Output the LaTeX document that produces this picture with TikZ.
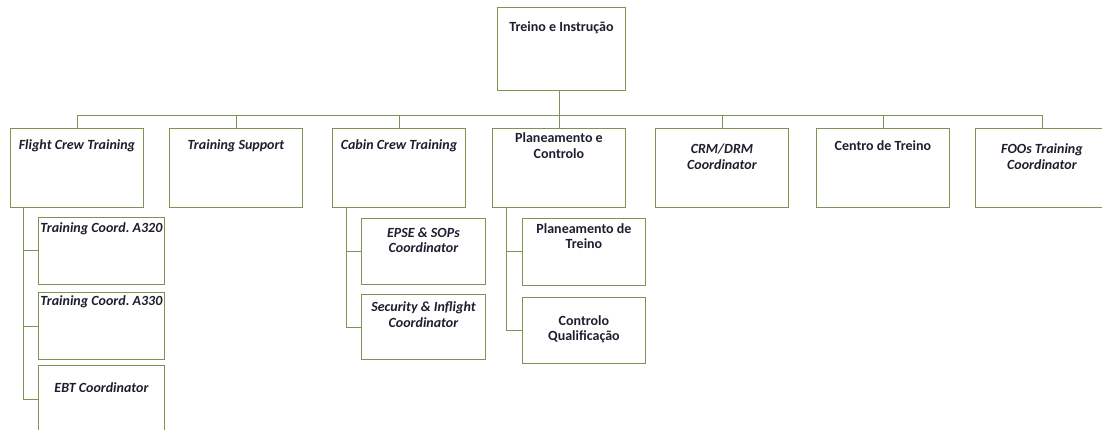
\documentclass[tikz,border=0pt]{standalone}
\usepackage{fontspec}
\setmainfont{Carlito}
\usetikzlibrary{calc, positioning}
\frenchspacing

\definecolor{orgline}{RGB}{122,148,82}
\definecolor{orgtext}{RGB}{30,30,48}

\tikzset{
	unit/.style={draw=orgline, line width=0.9pt, anchor=north west,
		minimum width=133, minimum height=79, inner sep=0pt},
	subunit/.style={unit, minimum width=126, minimum height=67},
	lbl/.style={text=orgtext, font=\fontsize{14}{15.5}\selectfont\bfseries,
		align=center, inner sep=0pt, anchor=center},
	tx/.style 2 args={label={[lbl, label distance=0pt, yshift=-#1]north:{#2}}},
	itx/.style 2 args={label={[lbl, font=\fontsize{14}{15.5}\selectfont\bfseries\itshape,
		label distance=0pt, yshift=-#1]north:{#2}}},
	link/.style={draw=orgline, line width=0.9pt}
}

\begin{document}
\begin{tikzpicture}[x=1pt, y=1pt]
\clip (0,0) rectangle (1102,-430);

% head
\node[unit, minimum width=128, minimum height=83, tx={21}{Treino e Instrução}] (head) at (497,-7) {};
\coordinate (bus) at (559,-115);

% first level
\node[unit, itx={18}{Flight Crew Training}] (fct) at (10,-128) {};
\node[unit, itx={18}{Training Support}] (ts) at (169,-128) {};
\node[unit, itx={18}{Cabin Crew Training}] (cct) at (332,-128) {};
\node[unit, tx={17.5}{Planeamento e\\Controlo}] (pc) at (492,-128) {};
\node[unit, itx={28.5}{CRM/DRM\\Coordinator}] (crm) at (655,-128) {};
\node[unit, tx={18}{Centro de Treino}] (ct) at (816,-128) {};
\node[unit, itx={28.5}{FOOs Training\\Coordinator}] (foo) at (975,-128) {};

% second level
\node[subunit, itx={12}{Training Coord. A320}] (a320) at (38,-217) {};
\node[subunit, itx={10}{Training Coord. A330}] (a330) at (38,-292) {};
\node[subunit, itx={23}{EBT Coordinator}] (ebt) at (38,-365) {};

\node[subunit, minimum width=124, minimum height=66, itx={22}{EPSE \& SOPs\\Coordinator}] (epse) at (361,-218) {};
\node[subunit, minimum width=124, minimum height=65, itx={20.5}{Security \& Inflight\\Coordinator}] (sec) at (361,-294) {};

\node[subunit, minimum width=123, minimum height=67, tx={18}{Planeamento de\\Treino}] (plt) at (522,-218) {};
\node[subunit, minimum width=123, minimum height=66, tx={32.5}{Controlo\\Qualificação}] (cq) at (522,-297) {};

% connectors
\draw[link] (bus |- head.south) -- (bus);
\foreach \n in {fct, ts, cct, pc, crm, ct, foo}
	\draw[link] (\n.north) |- (bus);

\foreach \n in {a320, a330, ebt}
	\draw[link] ($(fct.south west)+(13,0)$) |- (\n.west);
\foreach \n in {epse, sec}
	\draw[link] ($(cct.south west)+(14,0)$) |- (\n.west);
\foreach \n in {plt, cq}
	\draw[link] ($(pc.south west)+(14,0)$) |- (\n.west);
\end{tikzpicture}
\end{document}
